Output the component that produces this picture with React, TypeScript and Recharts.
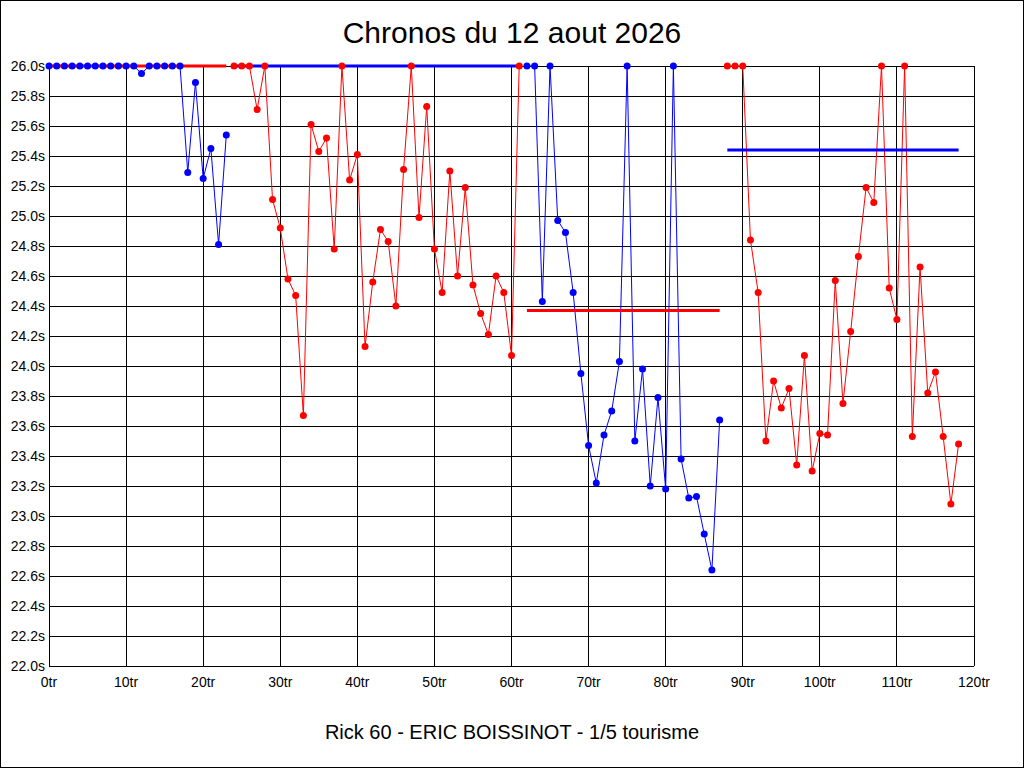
import { LineChart, Line, XAxis, YAxis, CartesianGrid } from "recharts";

// lap times in seconds, values above 26.0 are shown clipped at 26.0
const stintStartLaps = [0, 24, 62, 88];

const stint1Blue = [
  26.0, 26.0, 26.0, 26.0, 26.0, 26.0, 26.0, 26.0, 26.0, 26.0, 26.0, 26.0,
  25.95, 26.0, 26.0, 26.0, 26.0, 26.0, 25.29, 25.89, 25.25, 25.45, 24.81, 25.54,
];

const stint2Red = [
  26.0, 26.0, 26.0, 25.71, 26.0, 25.11, 24.92, 24.58, 24.47, 23.67, 25.61,
  25.43, 25.52, 24.78, 26.0, 25.24, 25.41, 24.13, 24.56, 24.91, 24.83, 24.4,
  25.31, 26.0, 24.99, 25.73, 24.78, 24.49, 25.3, 24.6, 25.19, 24.54, 24.35,
  24.21, 24.6, 24.49, 24.07, 26.0,
];

const stint3Blue = [
  26.0, 26.0, 24.43, 26.0, 24.97, 24.89, 24.49, 23.95, 23.47, 23.22, 23.54,
  23.7, 24.03, 26.0, 23.5, 23.98, 23.2, 23.79, 23.18, 26.0, 23.38, 23.12,
  23.13, 22.88, 22.64, 23.64,
];

const stint4Red = [
  26.0, 26.0, 26.0, 24.84, 24.49, 23.5, 23.9, 23.72, 23.85, 23.34, 24.07,
  23.3, 23.55, 23.54, 24.57, 23.75, 24.23, 24.73, 25.19, 25.09, 26.0, 24.52,
  24.31, 26.0, 23.53, 24.66, 23.82, 23.96, 23.53, 23.08, 23.48,
];

const stintAverages = [26.0, 26.0, 24.37, 25.44];

const xTicks = [0, 10, 20, 30, 40, 50, 60, 70, 80, 90, 100, 110, 120];
const yTicks = [
  22.0, 22.2, 22.4, 22.6, 22.8, 23.0, 23.2, 23.4, 23.6, 23.8, 24.0, 24.2,
  24.4, 24.6, 24.8, 25.0, 25.2, 25.4, 25.6, 25.8, 26.0,
];

const TITLE = "Chronos du 12 aout 2026";
const SUBTITLE = "Rick 60 - ERIC BOISSINOT - 1/5 tourisme";

type Row = {
  lap: number;
  blue?: number;
  red?: number;
  avgRed?: number;
  avgBlue?: number;
};

function buildRows(): Row[] {
  const stints = [
    { times: stint1Blue, key: "blue", avgKey: "avgRed" },
    { times: stint2Red, key: "red", avgKey: "avgBlue" },
    { times: stint3Blue, key: "blue", avgKey: "avgRed" },
    { times: stint4Red, key: "red", avgKey: "avgBlue" },
  ] as const;
  const total = stintStartLaps[3] + stint4Red.length;
  const rows: Row[] = Array.from({ length: total }, (_, lap) => ({ lap }));
  stints.forEach((s, i) => {
    s.times.forEach((t, j) => {
      const row = rows[stintStartLaps[i] + j];
      row[s.key] = t;
      row[s.avgKey] = stintAverages[i];
    });
  });
  return rows;
}

const data = buildRows();

const FONT = "'Liberation Sans', Arial, sans-serif";
const tickStyle = { fill: "#000", fontSize: 14, fontFamily: FONT };

export default function App() {
  return (
    <div
      style={{
        position: "absolute",
        left: 0,
        top: 0,
        width: 1024,
        height: 768,
        background: "#fff",
        fontFamily: FONT,
      }}
    >
      <div
        style={{
          position: "absolute",
          top: 18,
          left: 0,
          width: 1024,
          textAlign: "center",
          fontSize: 30,
          lineHeight: "30px",
          color: "#000",
        }}
      >
        {TITLE}
      </div>
      <LineChart
        width={1024}
        height={768}
        data={data}
        margin={{ top: 66, right: 0, bottom: 0, left: 0 }}
      >
        <CartesianGrid
          stroke="#000"
          strokeWidth={1}
          shapeRendering="crispEdges"
        />
        <XAxis
          dataKey="lap"
          type="number"
          domain={[0, 120]}
          ticks={xTicks}
          interval={0}
          height={102}
          axisLine={false}
          tickLine={false}
          tickSize={0}
          tickMargin={11}
          tick={tickStyle}
          tickFormatter={(v) => `${v}tr`}
        />
        <YAxis
          domain={[22, 26]}
          ticks={yTicks}
          interval={0}
          width={49}
          axisLine={false}
          tickLine={false}
          tickSize={0}
          tickMargin={4}
          tick={tickStyle}
          tickFormatter={(v) => `${Number(v).toFixed(1)}s`}
        />
        <YAxis
          yAxisId="right"
          orientation="right"
          domain={[22, 26]}
          ticks={yTicks}
          interval={0}
          width={50}
          axisLine={false}
          tickLine={false}
          tickSize={0}
          tickMargin={4}
          tick={tickStyle}
          tickFormatter={(v) => `${Number(v).toFixed(1)}s`}
        />
        <Line
          dataKey="blue"
          stroke="#0000ff"
          strokeWidth={1}
          dot={false}
          activeDot={false}
          isAnimationActive={false}
        />
        <Line
          dataKey="red"
          stroke="#ff0000"
          strokeWidth={1}
          dot={false}
          activeDot={false}
          isAnimationActive={false}
        />
        <Line
          dataKey="avgRed"
          stroke="#ff0000"
          strokeWidth={3}
          dot={false}
          activeDot={false}
          isAnimationActive={false}
        />
        <Line
          dataKey="avgBlue"
          stroke="#0000ff"
          strokeWidth={3}
          dot={false}
          activeDot={false}
          isAnimationActive={false}
        />
        <Line
          dataKey="blue"
          stroke="none"
          dot={{ r: 3.5, fill: "#0000ff", stroke: "none" }}
          activeDot={false}
          isAnimationActive={false}
        />
        <Line
          dataKey="red"
          stroke="none"
          dot={{ r: 3.5, fill: "#ff0000", stroke: "none" }}
          activeDot={false}
          isAnimationActive={false}
        />
      </LineChart>
      <div
        style={{
          position: "absolute",
          top: 722,
          left: 0,
          width: 1024,
          textAlign: "center",
          fontSize: 20,
          lineHeight: "20px",
          color: "#000",
        }}
      >
        {SUBTITLE}
      </div>
      <div
        style={{
          position: "absolute",
          left: 0,
          top: 0,
          width: 1024,
          height: 768,
          border: "1px solid #000",
          boxSizing: "border-box",
          pointerEvents: "none",
        }}
      />
    </div>
  );
}
